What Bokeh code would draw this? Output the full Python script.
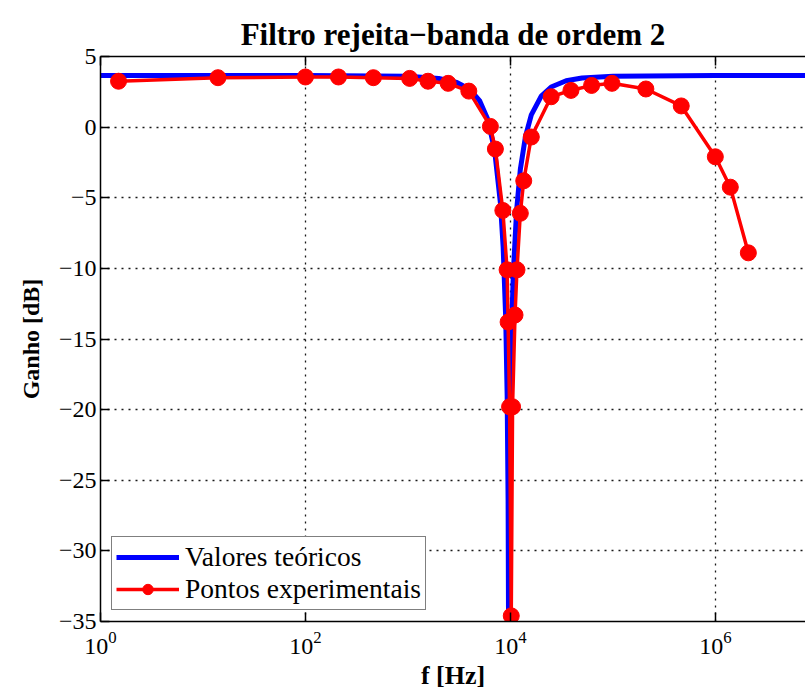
from bokeh.plotting import figure
from bokeh.models import FixedTicker, LinearAxis, Range1d
from bokeh.embed import file_html
from bokeh.resources import INLINE

# ---- data ----
title_text = "Filtro rejeita−banda de ordem 2"
x_label = "f [Hz]"
y_label = "Ganho [dB]"
legend_theory = "Valores teóricos"
legend_exp = "Pontos experimentais"

theory_f = [1, 100, 1000, 2000, 3000, 4000, 5000, 6000, 7000, 8000, 8500, 9000,
            9300, 9500, 9600, 9650, 9700, 9800, 10000, 10300, 10700, 11500, 12500,
            14000, 16000, 20000, 25000, 35000, 50000, 100000, 1000000, 8000000]
theory_db = [3.65, 3.65, 3.60, 3.45, 3.16, 2.68, 1.88, 0.58, -1.59, -5.4, -8.5, -13.5,
             -19.0, -26.4, -36.0, -60.0, -36.0, -26.7, -19.3, -14.1, -10.2, -5.9, -3.0,
             -0.7, 0.87, 2.2, 2.84, 3.28, 3.48, 3.61, 3.65, 3.65]

exp_f = [1.5, 14, 100, 210, 460, 1040, 1570, 2470, 3930, 6380, 7140, 8440, 9290,
         9500, 9820, 10200, 10500, 11100, 11600, 12500, 13500, 16000, 25000, 39000,
         62000, 98000, 210000, 465000, 1000000, 1400000, 2100000]
exp_db = [3.25, 3.5, 3.55, 3.55, 3.5, 3.45, 3.25, 3.1, 2.55, 0.05, -1.55, -5.9, -10.1,
          -13.8, -19.8, -34.6, -19.8, -13.3, -10.1, -6.1, -3.8, -0.7, 2.15, 2.6,
          2.95, 3.1, 2.7, 1.5, -2.1, -4.25, -8.9]

x_ticks = [1, 100, 10000, 1000000]
y_ticks = [5, 0, -5, -10, -15, -20, -25, -30, -35]
y_tick_labels = ["5", "0", "−5", "−10", "−15", "−20", "−25", "−30", "−35"]

SERIF = "Liberation Serif"

p = figure(width=805, height=696, x_axis_type="log",
           x_range=Range1d(1, 10 ** 6.88), y_range=Range1d(-35, 5),
           output_backend="svg", toolbar_location=None,
           min_border_left=100, min_border_right=0,
           min_border_top=56, min_border_bottom=75)

p.background_fill_color = "white"
p.border_fill_color = "white"
p.outline_line_color = None

# title
p.title.text = title_text
p.title.text_font = SERIF
p.title.text_font_size = "31px"
p.title.text_font_style = "bold"
p.title.align = "center"
p.title.text_color = "black"

# axes
xa = p.xaxis[0]
xa.ticker = FixedTicker(ticks=x_ticks)
xa.minor_tick_line_color = None
xa.major_tick_in = 9
xa.major_tick_out = 0
xa.axis_line_width = 1.5
xa.axis_line_color = "black"
xa.major_tick_line_color = "black"
xa.major_tick_line_width = 1.5
xa.major_label_text_font = SERIF
xa.major_label_text_font_size = "24px"
xa.major_label_text_color = "black"
xa.major_label_standoff = 10
xa.axis_label = x_label
xa.axis_label_text_font = SERIF
xa.axis_label_text_font_size = "26px"
xa.axis_label_text_font_style = "bold"
xa.axis_label_text_color = "black"
xa.axis_label_standoff = 4

ya = p.yaxis[0]
ya.ticker = FixedTicker(ticks=y_ticks)
ya.major_label_overrides = {t: s for t, s in zip(y_ticks, y_tick_labels)}
ya.minor_tick_line_color = None
ya.major_tick_in = 9
ya.major_tick_out = 0
ya.axis_line_width = 1.5
ya.axis_line_color = "black"
ya.major_tick_line_color = "black"
ya.major_tick_line_width = 1.5
ya.major_label_text_font = SERIF
ya.major_label_text_font_size = "24px"
ya.major_label_text_color = "black"
ya.major_label_standoff = 4
ya.axis_label = y_label
ya.axis_label_text_font = SERIF
ya.axis_label_text_font_size = "24px"
ya.axis_label_text_font_style = "bold"
ya.axis_label_text_color = "black"
ya.axis_label_standoff = 12

top = LinearAxis(ticker=FixedTicker(ticks=x_ticks),
                 major_label_overrides={t: "" for t in x_ticks},
                 major_tick_in=9, major_tick_out=0, minor_tick_line_color=None,
                 axis_line_width=1.5, major_tick_line_width=1.5,
                 major_label_text_font_size="1px")
p.add_layout(top, "above")

# grid
for g in (p.xgrid[0], p.ygrid[0]):
    g.grid_line_color = "black"
    g.grid_line_dash = "2 5"
    g.grid_line_width = 1.3
    g.grid_line_alpha = 0.9

# data
p.line(theory_f, theory_db, line_color="#0000FF", line_width=5,
       legend_label=legend_theory)
p.line(exp_f, exp_db, line_color="#FF0000", line_width=3.5,
       legend_label=legend_exp)
p.scatter(exp_f, exp_db, marker="circle", size=16, fill_color="#FF0000",
          line_color="#FF0000", legend_label=legend_exp)

lg = p.legend[0]
lg.location = (11, 11)
lg.label_text_font = SERIF
lg.label_text_font_size = "27.5px"
lg.label_text_color = "black"
lg.label_text_line_height = 1.0
lg.border_line_color = "black"
lg.border_line_width = 1.5
lg.background_fill_color = "white"
lg.background_fill_alpha = 1
lg.glyph_width = 63
lg.glyph_height = 26
lg.label_height = 26
lg.label_standoff = 6
lg.padding = 4
lg.spacing = 0
lg.margin = 0

open("out.html", "w").write(file_html(p, INLINE))
